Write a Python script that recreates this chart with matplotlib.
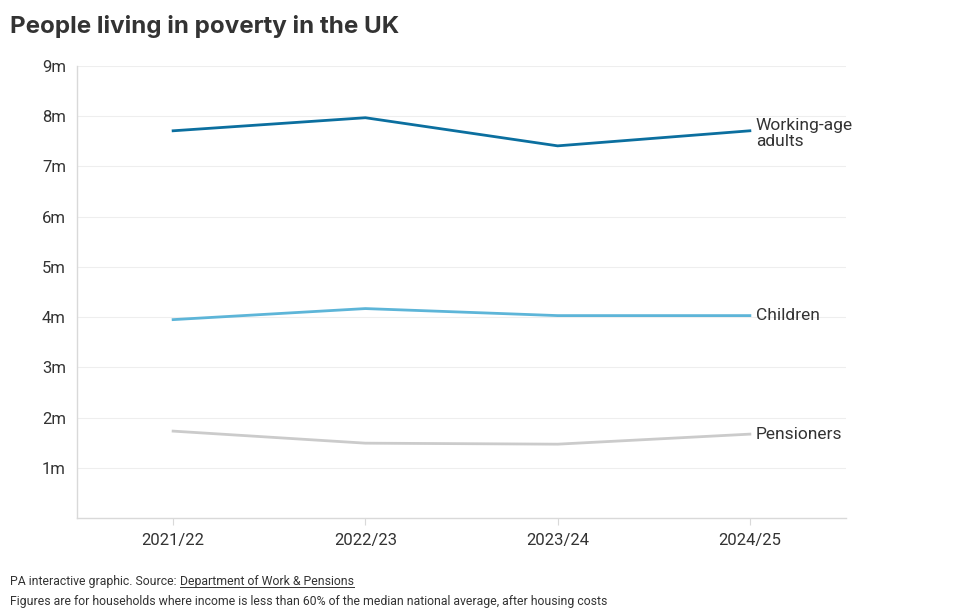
import matplotlib
matplotlib.use('Agg')
import matplotlib.pyplot as plt

plt.rcParams['font.family'] = ['Roboto', 'DejaVu Sans']

years = ['2021/22', '2022/23', '2023/24', '2024/25']
working_age = [7.71, 7.97, 7.41, 7.71]
children = [3.95, 4.17, 4.03, 4.03]
pensioners = [1.73, 1.49, 1.47, 1.67]
y_ticks = [1, 2, 3, 4, 5, 6, 7, 8, 9]
y_labels = ['1m', '2m', '3m', '4m', '5m', '6m', '7m', '8m', '9m']

fig = plt.figure(figsize=(9.6, 6.11), dpi=100)
ax = fig.add_axes([77/960, 1 - 518/611, (846 - 77)/960, (518 - 66)/611])

x = list(range(len(years)))
ax.plot(x, working_age, color='#0b6f9f', lw=2)
ax.plot(x, children, color='#5db5d8', lw=2)
ax.plot(x, pensioners, color='#cbcbcb', lw=2)

# labels at line ends
lab_kw = dict(fontsize=12.5, color='#333333', va='center', ha='left')
ax.text(3.03, working_age[-1] - 0.05, 'Working-age\nadults', linespacing=1.08, **lab_kw)
ax.text(3.03, children[-1], 'Children', **lab_kw)
ax.text(3.03, pensioners[-1], 'Pensioners', **lab_kw)

ax.set_xlim(-0.5, 3.5)
ax.set_ylim(0, 9)
ax.set_xticks(x)
ax.set_xticklabels(years)
ax.set_yticks(y_ticks)
ax.set_yticklabels(y_labels)
ax.grid(axis='y', color='#eeeeee', lw=0.8)
ax.set_axisbelow(True)
for s in ['top', 'right']:
    ax.spines[s].set_visible(False)
for s in ['left', 'bottom']:
    ax.spines[s].set_color('#d9d9d9')
    ax.spines[s].set_linewidth(1)
ax.tick_params(axis='x', length=5, color='#d9d9d9', labelsize=12, labelcolor='#333333', pad=6)
ax.tick_params(axis='y', length=0, labelsize=12, labelcolor='#333333', pad=8)

fig.text(10/960, 1 - 27/611, 'People living in poverty in the UK', fontsize=17.4,
         fontweight='bold', color='#333333', va='center', ha='left', family=['Inter', 'DejaVu Sans'])

# footer, with underlined source
foot = 8.8
t1 = fig.text(10/960, 1 - 581/611, 'PA interactive graphic. Source: ', fontsize=foot,
              color='#333333', va='center', ha='left')
fig.canvas.draw()
r = fig.canvas.get_renderer()
bb = t1.get_window_extent(r)
t2 = fig.text(bb.x1/960, 1 - 581/611, 'Department of Work & Pensions', fontsize=foot,
              color='#333333', va='center', ha='left')
bb2 = t2.get_window_extent(r)
fig.add_artist(plt.Line2D([bb2.x0/960, bb2.x1/960], [(bb2.y0 + 1)/611, (bb2.y0 + 1)/611],
                          color='#333333', lw=0.7))
fig.text(10/960, 1 - 601/611,
         'Figures are for households where income is less than 60% of the median national average, after housing costs',
         fontsize=foot, color='#333333', va='center', ha='left')

fig.savefig('out.png', dpi=100)
